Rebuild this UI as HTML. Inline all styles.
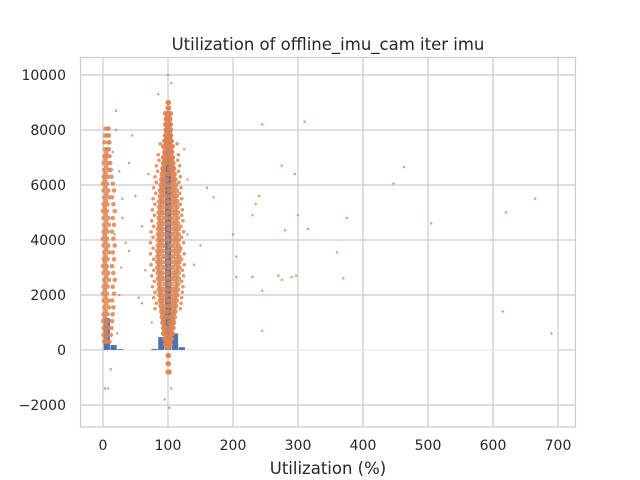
<!DOCTYPE html>
<html><head><meta charset="utf-8"><style>
body{margin:0;background:#fff}
svg{display:block;font-family:"DejaVu Sans","Liberation Sans",sans-serif}
</style></head><body>
<svg id="chart" width="640" height="480" viewBox="0 0 640 480">
<rect x="0" y="0" width="640" height="480" fill="#fff"/>
<g id="grid"></g>
<g id="bars"></g>
<g id="pts"></g>
<rect x="80.5" y="57.5" width="495" height="369.5" fill="none" stroke="#ccc" stroke-width="1.2"/>
<g id="ticks"></g>
<text x="328" y="50" text-anchor="middle" font-size="16.5" fill="#262626">Utilization of offline_imu_cam iter imu</text>
<text x="328" y="474" text-anchor="middle" font-size="16.5" fill="#262626">Utilization (%)</text>
</svg>
<script>
const xTicks=[0,100,200,300,400,500,600,700];
const yTicks=[-2000,0,2000,4000,6000,8000,10000];
const binStart=1, binWidth=10.5;
const binValues=[1160,180,30,0,0,0,0,40,470,7850,600,100];
const midY=[200,400,600,800,1000,1200,1400,1600,1800,2000,2200,2400,2600,2800,3000,3200,3400,3600,3800,4000,4200,4400,4600,4800,5000,5200,5400,5600,5800,6000,6200,6400,6600,6800,7000,7200,7400,7600,7800,8000,8200,8400,8600];
const midX1=[97,95,94,93,92,91,90,89,88,87,86,86,85,85,84,84,84,84,85,85,85,85,86,86,86,87,87,88,88,89,90,91,92,93,94,95,96,96,97,97,98,98,99];
const midX2=[100,101,99,100,102,100,99,101,100,98,100,102,100,99,101,100,98,100,102,100,99,101,100,98,100,102,100,99,101,100,98,100,102,100,99,101,100,98,100,101,100,99,100];
const midX3=[103,105,106,108,109,110,111,112,113,114,115,115,116,116,117,117,117,117,116,116,116,116,115,115,115,114,114,113,113,112,111,110,109,108,107,106,105,105,104,104,103,103,102];
const midX4=[96,95,93,95,93,95,93,95,93,95,93,95,93,92,93,92,93,92,93,92,93,92,93,95,93,95,93,95,93,95,93,95,93,95,93,95,93,95,96,97,96,97,96];
const midX5=[104,105,107,105,107,105,107,105,107,105,107,105,107,108,107,108,107,108,107,108,107,108,107,105,107,105,107,105,107,105,107,105,107,105,107,105,107,105,104,103,104,103,104];
const midY2=[100,300,500,700,900,1100,1300,1500,1700,1900,2100,2300,2500,2700,2900,3100,3300,3500,3700,3900,4100,4300,4500,4700,4900,5100,5300,5500,5700,5900,6100,6300,6500,6700,6900,7100,7300,7500,7700,7900,8100,8300,8500,8800,9000,-200,-500,-800];
const midX6=[99,98,97,95,94,93,92,91,90,90,89,88,88,88,87,87,87,87,87,88,88,88,88,89,89,89,90,90,91,91,92,92,93,94,95,96,97,97,98,98,99,99,100,100,101,100,101,100];
const midX7=[101,102,103,104,106,107,108,109,110,110,111,112,112,112,113,113,113,113,113,112,112,112,112,111,111,111,110,110,109,109,108,108,107,106,105,104,103,103,102,102,101,101,100,101,100,101,100,102];
const wideY=[1500,1900,2300,2700,3100,3500,3900,4300,4700,5100,5500,5900,6300,6700,7100,7500,1700,2100,2500,2900,3300,3700,4100,4500,4900,5300,5700,6100,6500,6900];
const wideXL=[80,78,76,75,74,73,73,74,75,76,77,78,80,82,85,88,82,80,79,78,78,77,77,78,79,80,81,82,84,86];
const wideXR=[119,121,123,124,125,125,124,124,123,122,121,120,119,118,116,114,120,122,121,122,121,120,121,120,121,119,118,117,116,115];
const leftY=[300,550,800,1050,1300,1550,1800,2050,2300,2550,2800,3050,3300,3550,3800,4050,4300,4550,4800,5050,5300,5550,5800,6050,6300,6550,6800,7050,7300,7550,7800,8050];
const leftX1=[2,1,1,0,1,2,1,0,1,2,1,0,1,2,1,0,1,2,1,0,1,2,1,0,1,2,1,2,3,2,3,4];
const leftX2=[6,7,8,6,7,9,8,6,7,9,8,6,7,9,8,6,7,9,8,6,7,9,8,6,7,9,8,6,7,8,7,8];
const leftX3=[10,12,13,14,15,16,14,17,15,18,16,14,17,15,18,16,14,17,15,18,16,14,17,15,13,12,11,10,9,10,9,8];
const leftY2=[425,675,925,1175,1425,1675,1925,2175,2425,2675,2925,3175,3425,3675,3925,4175,4425,4675,4925,5175,5425,5675,5925,6175,6425,6675,6925,7175];
const leftX4=[4,4,5,3,4,5,4,3,4,5,4,3,4,5,4,3,4,5,4,3,4,5,4,3,4,5,4,5];
const outX=[245,310,275,295,463,447,620,665,505,235,240,300,315,375,280,160,170,200,205,230,360,370,205,230,245,270,275,290,297,245,615,690,150,140,130,60,40,30,25,55,45,70,20,105,85,100,95,105,102,8,3,12,20,130,125,25,30,35,28,40,50,65,75,60,15,22,18];
const outY=[8200,8300,6700,6400,6650,6050,5000,5500,4600,5300,5600,4900,4400,4800,4350,5900,5550,4200,3400,4900,3550,2600,2650,2650,2150,2700,2550,2650,2700,700,1400,600,3800,3100,4200,4500,3600,5500,2000,1900,7800,6400,8700,9700,9300,10000,-1800,-1400,-2100,-1400,-1400,-700,8000,6200,7300,6500,4800,3900,3000,6800,5600,2900,1000,1700,7200,600,4200];

const NS='http://www.w3.org/2000/svg';
const L=80,R=575,T=57,B=427;
function sx(v){return 103+v*0.65;}
function sy(v){return 350-v*0.0275;}
function mk(tag,attrs,parent){const e=document.createElementNS(NS,tag);for(const k in attrs)e.setAttribute(k,attrs[k]);parent.appendChild(e);return e;}
const grid=document.getElementById('grid'),ticks=document.getElementById('ticks'),bars=document.getElementById('bars'),pts=document.getElementById('pts');
xTicks.forEach(v=>{
  const g=mk('line',{x1:sx(v),x2:sx(v),y1:T,y2:B,stroke:'#ccc','stroke-width':1.2},grid);
  
  
  const t=mk('text',{x:sx(v),y:450,'text-anchor':'middle','font-size':14,fill:'#262626'},ticks);
  t.textContent=v;
  
  
});
yTicks.forEach(v=>{
  const g=mk('line',{x1:L,x2:R,y1:sy(v),y2:sy(v),stroke:'#ccc','stroke-width':1.2},grid);
  
  
  const t=mk('text',{x:66,y:sy(v)+5,'text-anchor':'end','font-size':14,fill:'#262626'},ticks);
  t.textContent=v<0?'\u2212'+Math.abs(v):v;
  
  
});
const zl=mk('line',{x1:sx(0),x2:sx(700),y1:sy(0),y2:sy(0),stroke:'#eef0f5','stroke-width':1},bars);


binValues.forEach((v,i)=>{
  if(v<=0)return;
  const x0=sx(binStart+i*binWidth),x1=sx(binStart+(i+1)*binWidth);
  const r=mk('rect',{x:x0,y:sy(v),width:x1-x0-0.6,height:sy(0)-sy(v),fill:'#4c72b0'},bars);
  
  
});
function dot(x,y,r){
  const c=mk('circle',{cx:sx(x),cy:sy(y),r:r,fill:'#dd8452','fill-opacity':0.85},pts);
  
  
}
[midX1,midX2,midX3,midX4,midX5].forEach(xs=>xs.forEach((x,i)=>dot(x,midY[i],2.6)));
[midX6,midX7].forEach(xs=>xs.forEach((x,i)=>dot(x,midY2[i],2.6)));
[wideXL,wideXR].forEach(xs=>xs.forEach((x,i)=>dot(x,wideY[i],1.8)));
[leftX1,leftX2,leftX3].forEach(xs=>xs.forEach((x,i)=>dot(x,leftY[i],2.3)));
leftX4.forEach((x,i)=>dot(x,leftY2[i],2.3));
outX.forEach((x,i)=>dot(x,outY[i],1.2));
</script>
</body></html>
